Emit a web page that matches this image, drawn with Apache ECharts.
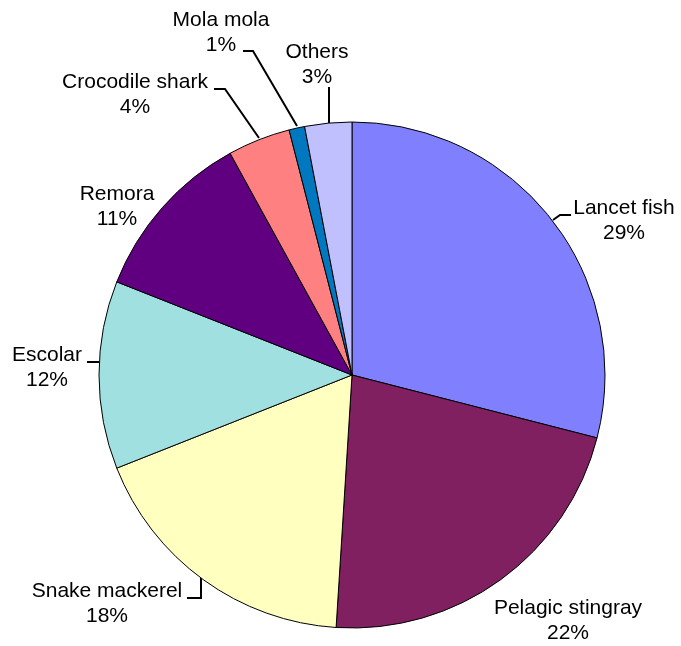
<!DOCTYPE html>
<html>
<head>
<meta charset="utf-8">
<script src="https://cdn.jsdelivr.net/npm/echarts@6/dist/echarts.min.js"></script>
<style>
  html, body { margin: 0; padding: 0; background: #fff; }
  #chart { width: 681px; height: 646px; }
</style>
</head>
<body>
<div id="chart"></div>
<script>
// Catch composition by species (percent of total)
var species = ['Lancet fish', 'Pelagic stingray', 'Snake mackerel', 'Escolar', 'Remora', 'Crocodile shark', 'Mola mola', 'Others'];
var shares = [29, 22, 18, 12, 11, 4, 1, 3];
var sliceColors = ['#8080FF', '#802060', '#FFFFC0', '#A0E0E0', '#600080', '#FF8080', '#0078C0', '#C0C0FF'];

// Centre of each two-line label block, in pixels
var labelCentres = [
  [624, 221], [568, 621], [107, 604], [47, 368],
  [117, 207], [135, 95], [221, 33], [317, 65]
];

// Leader line from slice edge to label (null = label sits beside its slice)
var leaderPaths = [
  [[553, 220], [560, 215], [571, 215]],
  null,
  [[201, 578], [201, 598], [187, 598]],
  [[99, 362], [93, 362], [87, 362]],
  null,
  [[259, 138], [225, 89], [214, 89]],
  [[297, 126], [253, 51], [243, 51]],
  [[329, 123], [329, 105], [329, 87]]
];

var chart = echarts.init(document.getElementById('chart'));
chart.setOption({
  animation: false,
  series: [{
    type: 'pie',
    center: [352, 375],
    radius: [0, 253],
    startAngle: 90,
    clockwise: true,
    avoidLabelOverlap: false,
    itemStyle: { borderColor: '#000', borderWidth: 1 },
    label: {
      show: true,
      position: 'outside',
      formatter: function (p) { return p.name + '\n' + p.value + '%'; },
      fontFamily: 'Liberation Sans, Arial, sans-serif',
      fontSize: 21,
      lineHeight: 25,
      color: '#000'
    },
    labelLine: {
      show: true,
      length: 10,
      length2: 8,
      lineStyle: { color: '#000', width: 2 }
    },
    labelLayout: function (params) {
      var i = params.dataIndex;
      var c = labelCentres[i];
      var out = { x: c[0], y: c[1], align: 'center', verticalAlign: 'middle' };
      if (leaderPaths[i]) { out.labelLinePoints = leaderPaths[i]; }
      return out;
    },
    emphasis: { disabled: true },
    data: species.map(function (name, i) {
      return {
        name: name,
        value: shares[i],
        itemStyle: { color: sliceColors[i] },
        labelLine: { show: !!leaderPaths[i] }
      };
    })
  }]
});
</script>
</body>
</html>
